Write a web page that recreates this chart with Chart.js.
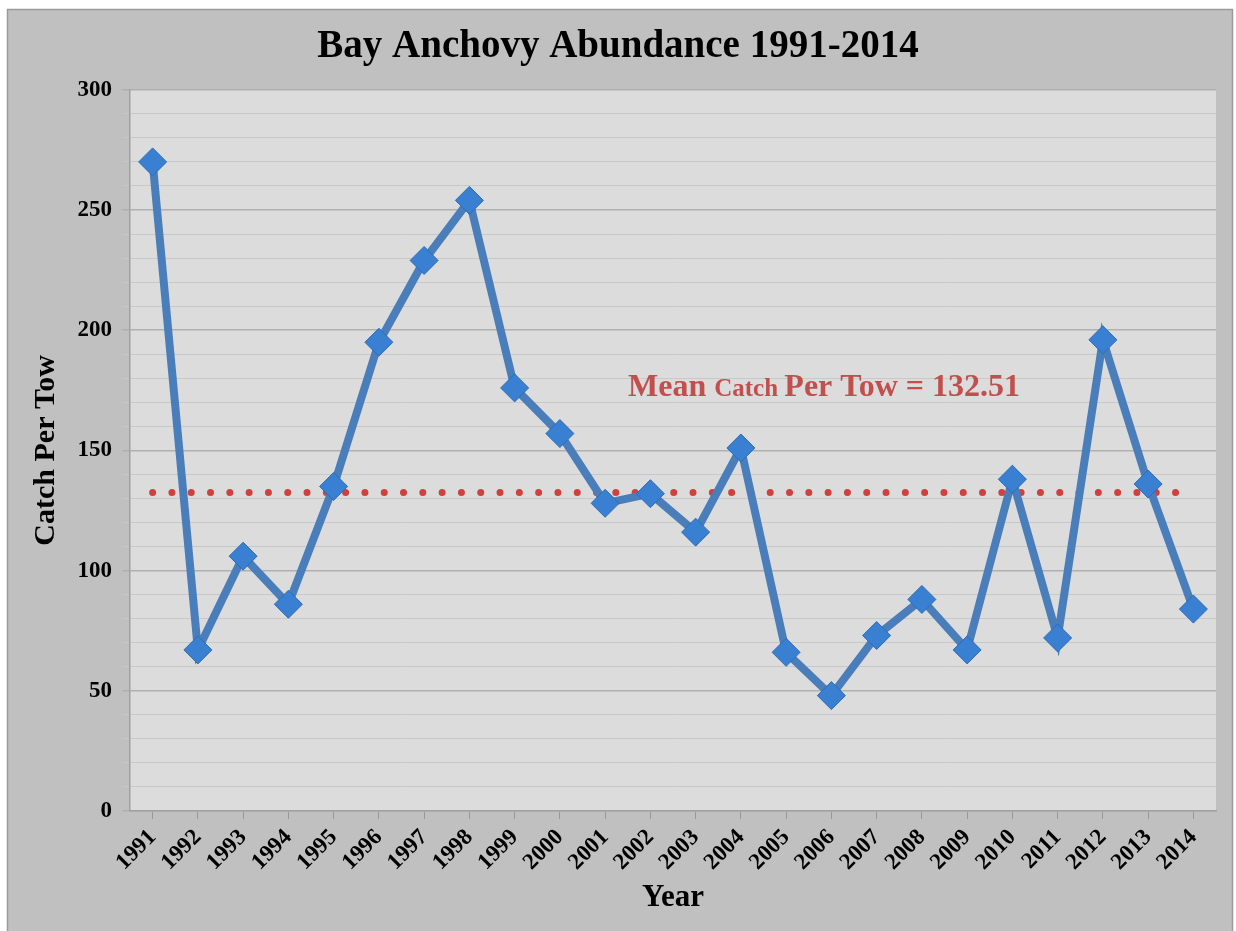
<!DOCTYPE html>
<html>
<head>
<meta charset="utf-8">
<script src="https://cdn.jsdelivr.net/npm/chart.js@4/dist/chart.umd.min.js"></script>
<style>
  html, body { margin: 0; padding: 0; background: #fff; }
  #wrap { width: 1236px; height: 931px; position: relative; }
</style>
</head>
<body>
<div id="wrap"><canvas id="anchovyChart" width="1236" height="931"></canvas></div>
<script>
// years (x axis)
var years = ["1991", "1992", "1993", "1994", "1995", "1996", "1997", "1998", "1999", "2000",
  "2001", "2002", "2003", "2004", "2005", "2006", "2007", "2008", "2009", "2010",
  "2011", "2012", "2013", "2014"];
// catch per tow
var catchPerTow = [270, 67, 106, 86, 135, 195, 229, 254, 176, 157,
  128, 132, 116, 151, 66, 48, 73, 88, 67, 138,
  72, 196, 136, 84];
// mean line
var meanValue = 132.51;
var meanLine = [132.51, 132.51, 132.51, 132.51, 132.51, 132.51, 132.51, 132.51, 132.51, 132.51,
  132.51, 132.51, 132.51, 132.51, 132.51, 132.51, 132.51, 132.51, 132.51, 132.51,
  132.51, 132.51, 132.51, 132.51];
// y tick labels shown
var yLabels = [0, 50, 100, 150, 200, 250, 300];

var serif = "'Liberation Serif', 'DejaVu Serif', serif";

// background: gray frame + light plot area
var bgPlugin = {
  id: 'bg',
  beforeDraw: function (chart) {
    var c = chart.ctx;
    var a = chart.chartArea;
    c.save();
    c.fillStyle = '#ffffff';
    c.fillRect(0, 0, chart.width, chart.height);
    c.fillStyle = '#c0c0c0';
    c.fillRect(7, 9, 1226, 922);
    c.strokeStyle = '#9a9a9a';
    c.lineWidth = 1.5;
    c.strokeRect(7.5, 9.5, 1225, 930);
    c.fillStyle = '#dcdcdc';
    c.fillRect(a.left, a.top, a.right - a.left, a.bottom - a.top);
    c.restore();
  },
  afterDatasetsDraw: function (chart) {
    // mean label
    var c = chart.ctx;
    var y = chart.scales.y.getPixelForValue(meanValue) - 96;
    var parts = [
      { t: "Mean ", f: "bold 32px " + serif },
      { t: "Catch ", f: "bold 25px " + serif },
      { t: "Per Tow = " + meanValue.toFixed(2), f: "bold 32px " + serif }
    ];
    c.save();
    c.fillStyle = '#c0504d';
    c.textBaseline = 'alphabetic';
    var x = 628;
    parts.forEach(function (p) {
      c.font = p.f;
      c.fillText(p.t, x, y);
      x += c.measureText(p.t).width;
    });
    c.restore();
  }
};

var ctx = document.getElementById("anchovyChart");
var myChart = new Chart(ctx, {
  type: 'line',
  data: {
    labels: years,
    datasets: [
      {
        label: "Catch Per Tow",
        data: catchPerTow,
        borderColor: "#4a7ebb",
        borderWidth: 8,
        pointStyle: 'rectRot',
        pointRadius: 14,
        pointBackgroundColor: "#3a80d2",
        pointBorderColor: "#2d6cb8",
        pointBorderWidth: 1,
        lineTension: 0,
        order: 0
      },
      {
        label: "Mean",
        data: meanLine,
        borderColor: "#d0403c",
        borderWidth: 7,
        borderDash: [0, 19.3],
        borderCapStyle: 'round',
        pointRadius: 0,
        fill: false,
        order: 1
      }
    ]
  },
  plugins: [bgPlugin],
  options: {
    responsive: false,
    animation: false,
    devicePixelRatio: 1,
    layout: { padding: { top: 12, right: 20, left: 20, bottom: 12 } },
    plugins: {
      legend: { display: false },
      tooltip: { enabled: false },
      title: {
        display: true,
        text: "Bay Anchovy Abundance 1991-2014",
        color: '#000',
        font: { family: serif, size: 39, weight: 'bold' },
        padding: { top: 12, bottom: 19 }
      }
    },
    scales: {
      x: {
        offset: true,
        afterFit: function (s) { s.height = 108; },
        grid: {
          offset: false,
          drawOnChartArea: false,
          drawTicks: true,
          tickLength: 8,
          color: '#999'
        },
        border: { color: '#a0a0a0', width: 1.5 },
        ticks: {
          color: '#000',
          minRotation: 45,
          maxRotation: 45,
          autoSkip: false,
          padding: 5,
          font: { family: serif, size: 23, weight: 'bold' }
        },
        title: {
          display: true,
          text: "Year",
          color: '#000',
          font: { family: serif, size: 31, weight: 'bold' },
          padding: { top: 4, bottom: 2 }
        }
      },
      y: {
        min: 0,
        max: 300,
        afterFit: function (s) { s.width = 110; },
        ticks: {
          stepSize: 10,
          maxTicksLimit: 100,
          autoSkip: false,
          color: '#000',
          padding: 10,
          font: { family: serif, size: 23, weight: 'bold' },
          callback: function (v) { return yLabels.indexOf(v) >= 0 ? v : ''; }
        },
        grid: {
          tickLength: 8,
          color: function (c) { return c.tick && c.tick.value % 50 === 0 ? '#b0b0b0' : '#c8c8c8'; },
          lineWidth: function (c) { return c.tick && c.tick.value % 50 === 0 ? 1.5 : 1; }
        },
        border: { color: '#a0a0a0', width: 1.5 },
        title: {
          display: true,
          text: "Catch Per Tow",
          color: '#000',
          font: { family: serif, size: 30, weight: 'bold' },
          padding: { top: 8, bottom: 4 }
        }
      }
    }
  }
});
</script>
</body>
</html>
